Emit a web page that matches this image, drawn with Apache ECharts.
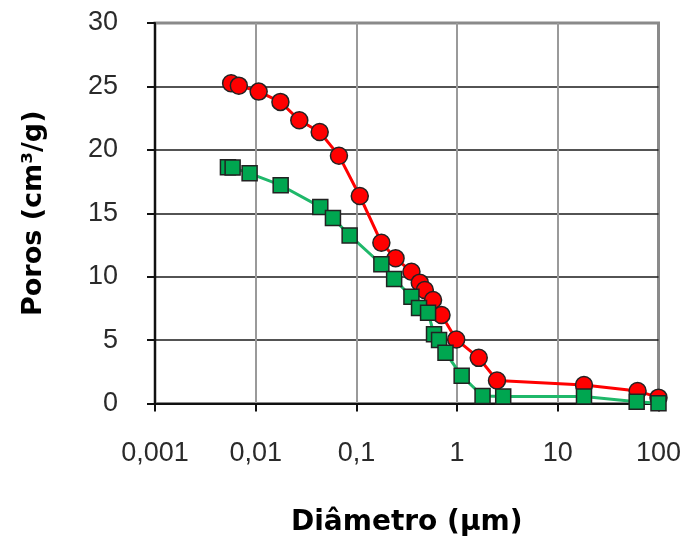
<!DOCTYPE html>
<html>
<head>
<meta charset="utf-8">
<script src="https://cdn.jsdelivr.net/npm/echarts@6/dist/echarts.min.js"></script>
<style>
    html, body { margin: 0; padding: 0; background: #fff; }
    #chart { width: 691px; height: 540px; }
</style>
</head>
<body>
<div id="chart"></div>
<script>
// dados
const xTickLabels = ['0,001', '0,01', '0,1', '1', '10', '100'];
const yTicks = [0, 5, 10, 15, 20, 25, 30];

// curva vermelha (círculos)
const redX = [0.0057, 0.0068, 0.0107, 0.0176, 0.0271, 0.0432, 0.0671, 0.108, 0.177, 0.245, 0.352,
    0.426, 0.478, 0.577, 0.70, 0.98, 1.64, 2.49, 18.2, 62, 100];
const redY = [25.25, 25.06, 24.59, 23.78, 22.33, 21.41, 19.54, 16.36, 12.68, 11.45, 10.39,
    9.53, 8.95, 8.16, 6.98, 5.05, 3.60, 1.81, 1.46, 0.99, 0.46];

// curva verde (quadrados)
const greenX = [0.0053, 0.0059, 0.0087, 0.0177, 0.0438, 0.0585, 0.0857, 0.177, 0.237, 0.352, 0.419,
    0.515, 0.590, 0.662, 0.767, 1.11, 1.79, 2.87, 18.2, 60.7, 100];
const greenY = [18.63, 18.60, 18.15, 17.21, 15.50, 14.63, 13.25, 10.98, 9.82, 8.42, 7.53,
    7.16, 5.46, 5.01, 4.01, 2.18, 0.59, 0.55, 0.55, 0.14, 0.02];

function pairs(xs, ys) {
    return xs.map(function (x, i) { return [x, ys[i]]; });
}

const chart = echarts.init(document.getElementById('chart'));

const option = {
    animation: false,
    grid: {
        left: 155,
        right: 32.5,
        top: 23,
        bottom: 136.5,
        outerBoundsMode: 'none',
        show: true,
        borderColor: '#8a8a8a',
        borderWidth: 3
    },
    xAxis: {
        type: 'log',
        logBase: 10,
        min: 0.001,
        max: 100,
        name: 'Diâmetro (µm)',
        nameLocation: 'middle',
        nameGap: 105,
        nameTextStyle: {
            fontFamily: 'DejaVu Sans',
            fontWeight: 'bold',
            fontSize: 28,
            color: '#000'
        },
        axisLine: { lineStyle: { color: '#111', width: 2 } },
        axisTick: { show: true, length: 8, lineStyle: { color: '#111', width: 2 } },
        axisLabel: {
            margin: 37,
            fontFamily: 'Liberation Sans',
            fontSize: 27,
            color: '#2a2a2a',
            formatter: function (v) {
                return xTickLabels[Math.round(Math.log10(v)) + 3];
            }
        },
        splitLine: {
            show: true,
            showMaxLine: false,
            lineStyle: { color: '#9a9a9a', width: 2 }
        },
        minorTick: { show: false }
    },
    yAxis: {
        type: 'value',
        min: yTicks[0],
        max: yTicks[yTicks.length - 1],
        interval: 5,
        name: 'Poros (cm³/g)',
        nameLocation: 'middle',
        nameGap: 108,
        nameTextStyle: {
            fontFamily: 'DejaVu Sans',
            fontWeight: 'bold',
            fontSize: 27,
            color: '#000'
        },
        axisLine: { show: true, lineStyle: { color: '#111', width: 2 } },
        axisTick: { show: true, length: 8, lineStyle: { color: '#111', width: 2 } },
        axisLabel: {
            margin: 37,
            fontFamily: 'Liberation Sans',
            fontSize: 27,
            color: '#2a2a2a'
        },
        splitLine: {
            show: true,
            showMaxLine: false,
            lineStyle: { color: '#1a1a1a', width: 1.5 }
        }
    },
    series: [
        {
            name: 'vermelho',
            type: 'line',
            data: pairs(redX, redY),
            symbol: 'circle',
            symbolSize: 17,
            lineStyle: { color: '#ff0000', width: 3 },
            itemStyle: { color: '#ff0000', borderColor: '#222', borderWidth: 1.5 }
        },
        {
            name: 'verde',
            type: 'line',
            data: pairs(greenX, greenY),
            symbol: 'rect',
            symbolSize: 15,
            lineStyle: { color: '#1fb86a', width: 3 },
            itemStyle: { color: '#00a650', borderColor: '#222', borderWidth: 1.5 }
        }
    ]
};

chart.setOption(option);
</script>
</body>
</html>
